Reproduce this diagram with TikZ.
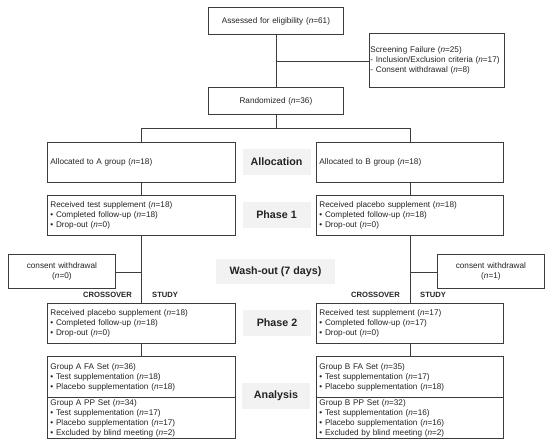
\documentclass[tikz,border=0pt]{standalone}
\usepackage{fontspec}
\setmainfont{Liberation Sans}
\definecolor{lc}{RGB}{60,60,60}
\definecolor{tc}{RGB}{35,35,35}
\definecolor{lab}{RGB}{242,242,242}
\newcommand{\nn}{\textit{n}}
\begin{document}
\begin{tikzpicture}[x=1pt,y=-1pt,
  box/.style={draw=lc, line width=0.8pt, inner xsep=3pt, inner ysep=0pt, text=tc,
    font=\fontsize{8.2}{10}\selectfont, align=left, anchor=north west},
  cbox/.style={box, align=center},
  lbl/.style={fill=lab, text=tc, font=\fontsize{10.7}{12}\selectfont\bfseries,
    minimum width=68pt, minimum height=26pt, inner sep=0pt},
  cs/.style={text=tc, font=\fontsize{7.6}{9}\selectfont\bfseries, inner sep=0pt},
  ln/.style={draw=lc, line width=0.8pt}]
\useasboundingbox (0,0) rectangle (550,446);

% top
\node[cbox, minimum width=135pt, minimum height=27pt, text width=129pt] (assess) at (208,7) {Assessed for eligibility (\nn=61)};
\node[box, inner xsep=1pt, minimum width=135pt, minimum height=54pt, text width=133pt] (screen) at (369,33) {Screening Failure (\nn=25)\\- Inclusion/Exclusion criteria (\nn=17)\\- Consent withdrawal (\nn=8)};
\node[cbox, minimum width=135pt, minimum height=27pt, text width=129pt] (rand) at (208,87) {Randomized (\nn=36)};

% allocation
\node[box, minimum width=188pt, minimum height=40pt, text width=182pt] (alA) at (47,142) {Allocated to A group (\nn=18)};
\node[box, minimum width=187pt, minimum height=40pt, text width=181pt] (alB) at (316,142) {Allocated to B group (\nn=18)};

% phase 1
\node[box, minimum width=188pt, minimum height=40pt, text width=182pt] (p1A) at (47,195) {Received test supplement (\nn=18)\\• Completed follow-up (\nn=18)\\• Drop-out (\nn=0)};
\node[box, minimum width=187pt, minimum height=40pt, text width=181pt] (p1B) at (316,195) {Received placebo supplement (\nn=18)\\• Completed follow-up (\nn=18)\\• Drop-out (\nn=0)};

% consent withdrawal
\node[cbox, minimum width=107pt, minimum height=34pt, text width=101pt] (cwA) at (8,254) {consent withdrawal\\(\nn=0)};
\node[cbox, minimum width=107pt, minimum height=34pt, text width=101pt] (cwB) at (437,254) {consent withdrawal\\(\nn=1)};

% phase 2
\node[box, minimum width=188pt, minimum height=40pt, text width=182pt] (p2A) at (47,303) {Received placebo supplement (\nn=18)\\• Completed follow-up (\nn=18)\\• Drop-out (\nn=0)};
\node[box, minimum width=187pt, minimum height=40pt, text width=181pt] (p2B) at (316,303) {Received test supplement (\nn=17)\\• Completed follow-up (\nn=17)\\• Drop-out (\nn=0)};

% analysis
\node[box, minimum width=188pt, minimum height=41pt, text width=182pt] (faA) at (47,356) {Group A FA Set (\nn=36)\\• Test supplementation (\nn=18)\\• Placebo supplementation (\nn=18)};
\node[box, minimum width=188pt, minimum height=41pt, text width=182pt] (ppA) at (47,397) {Group A PP Set (\nn=34)\\• Test supplementation (\nn=17)\\• Placebo supplementation (\nn=17)\\• Excluded by blind meeting (\nn=2)};
\node[box, minimum width=187pt, minimum height=41pt, text width=181pt] (faB) at (316,356) {Group B FA Set (\nn=35)\\• Test supplementation (\nn=17)\\• Placebo supplementation (\nn=18)};
\node[box, minimum width=187pt, minimum height=41pt, text width=181pt] (ppB) at (316,397) {Group B PP Set (\nn=32)\\• Test supplementation (\nn=16)\\• Placebo supplementation (\nn=16)\\• Excluded by blind meeting (\nn=2)};

% stage labels
\node[lbl] (lAlloc) at (276.5,162) {Allocation};
\node[lbl] (lP1) at (276.5,215) {Phase 1};
\node[lbl, minimum width=119pt, minimum height=25pt] (lWash) at (275.5,271.5) {Wash-out (7 days)};
\node[lbl] (lP2) at (277,323) {Phase 2};
\node[lbl] (lAn) at (276,396) {Analysis};

% crossover labels
\node[cs, anchor=east] (coA) at (132,295) {CROSSOVER};
\node[cs, anchor=west] (stA) at (152,295) {STUDY};
\node[cs, anchor=east] (coB) at (400,295) {CROSSOVER};
\node[cs, anchor=west] (stB) at (420,295) {STUDY};

% connectors
\coordinate (j1) at (assess.south |- 0,61);
\coordinate (j2) at (rand.south |- 0,128);
\coordinate (wA) at (p1A.south |- 0,272);
\coordinate (wB) at (p1B.south |- 0,272);
\draw[ln] (assess.south) -- (rand.north);
\draw[ln] (j1) -- (j1 -| screen.west);
\draw[ln] (rand.south) -- (j2);
\draw[ln] (j2 -| alA.north) -- (j2 -| alB.north);
\draw[ln] (j2 -| alA.north) -- (alA.north);
\draw[ln] (j2 -| alB.north) -- (alB.north);
\draw[ln] (alA.south) -- (p1A.north);
\draw[ln] (alB.south) -- (p1B.north);
\draw[ln] (p1A.south) -- (p2A.north);
\draw[ln] (p1B.south) -- (p2B.north);
\draw[ln] (wA) -- (wA -| cwA.east);
\draw[ln] (wB) -- (wB -| cwB.west);
\draw[ln] (p2A.south) -- (faA.north);
\draw[ln] (p2B.south) -- (faB.north);
\end{tikzpicture}
\end{document}
